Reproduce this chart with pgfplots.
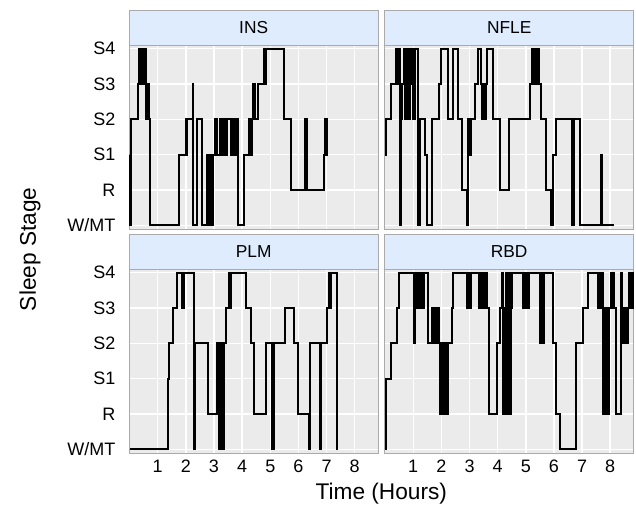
\documentclass[border=0pt]{standalone}
\usepackage{fontspec}
\setmainfont{Liberation Sans}
\usepackage{pgfplots}
\pgfplotsset{compat=1.18}
\usepackage{pgfplotstable}

\definecolor{panelbg}{RGB}{235,235,235}
\definecolor{stripbg}{RGB}{222,236,254}
\definecolor{framegray}{RGB}{170,170,170}

% stages: 0=W/MT 1=R 2=S1 3=S2 4=S3 5=S4, step holds until next row
\pgfplotstableread{
t s
0.00 2
0.02 0
0.04 3
0.29 4
0.33 5
0.36 4
0.38 5
0.40 4
0.42 5
0.45 4
0.47 5
0.50 4
0.52 5
0.55 4
0.57 5
0.60 3
0.62 4
0.65 3
0.67 4
0.70 3
0.74 0
1.76 2
2.00 3
2.03 2
2.05 3
2.24 4
2.27 0
2.40 3
2.56 0
2.74 2
2.77 0
2.80 2
2.84 0
2.88 2
2.92 0
2.98 2
3.02 3
3.04 2
3.06 3
3.08 2
3.10 3
3.12 2
3.21 3
3.23 2
3.25 3
3.27 2
3.29 3
3.31 2
3.33 3
3.35 2
3.37 3
3.39 2
3.41 3
3.43 2
3.45 3
3.61 2
3.63 3
3.65 2
3.67 3
3.69 2
3.71 3
3.73 2
3.75 3
3.77 2
3.79 3
3.85 0
4.06 2
4.24 3
4.27 2
4.29 3
4.32 2
4.34 3
4.39 4
4.41 3
4.43 4
4.45 3
4.56 4
4.76 5
4.78 4
4.80 5
4.82 4
4.84 5
5.49 3
5.73 1
6.25 3
6.29 1
6.92 2
6.94 3
6.96 2
6.98 3
7.00 2
7.02 3
7.05 3
}\insdata

\pgfplotstableread{
t s
0.00 2
0.02 3
0.22 4
0.37 5
0.40 4
0.42 5
0.45 4
0.47 5
0.53 0
0.58 3
0.61 4
0.66 5
0.69 3
0.72 5
0.76 4
0.79 3
0.81 5
0.86 3
0.88 5
0.91 4
0.97 5
1.00 3
1.02 5
1.06 3
1.08 5
1.16 0
1.24 3
1.41 2
1.48 0
1.66 3
1.92 4
2.00 5
2.22 3
2.40 5
2.58 3
2.72 1
2.91 0
2.95 3
2.97 2
2.99 3
3.01 2
3.03 3
3.05 2
3.07 3
3.20 4
3.31 5
3.41 4
3.43 3
3.45 4
3.47 3
3.49 4
3.51 3
3.53 4
3.55 3
3.57 4
3.62 5
3.83 3
4.07 1
4.42 3
5.14 4
5.22 5
5.25 4
5.28 5
5.31 4
5.34 5
5.38 4
5.40 5
5.46 4
5.53 3
5.70 1
5.88 0
5.97 2
6.06 3
6.65 0
6.72 3
6.93 0
7.68 2
7.70 0
8.12 0
}\nfledata

\pgfplotstableread{
t s
0.00 0
1.35 2
1.41 3
1.53 4
1.68 5
1.85 4
1.87 5
1.89 4
1.92 5
2.28 0
2.33 3
2.77 1
3.12 3
3.19 0
3.22 3
3.25 0
3.28 3
3.31 0
3.35 3
3.44 4
3.53 5
3.55 4
3.57 5
3.59 4
3.61 5
4.12 4
4.32 3
4.42 1
4.86 3
5.05 0
5.12 3
5.51 4
5.83 3
5.97 1
6.36 0
6.40 3
6.75 0
6.79 3
7.01 4
7.08 5
7.10 4
7.12 5
7.14 4
7.16 5
7.38 0
7.40 0
}\plmdata

\pgfplotstableread{
t s
0.00 0
0.04 2
0.22 3
0.41 4
0.49 5
1.02 3
1.05 4
1.08 5
1.10 4
1.13 5
1.16 4
1.19 5
1.22 4
1.25 5
1.28 4
1.31 5
1.34 4
1.37 5
1.51 3
1.65 4
1.68 3
1.71 4
1.74 3
1.77 4
1.80 3
1.83 4
1.92 3
1.96 1
1.99 3
2.02 1
2.05 3
2.08 1
2.11 3
2.14 1
2.17 3
2.20 1
2.23 3
2.37 4
2.43 5
2.91 4
2.94 5
2.97 4
3.00 5
3.03 4
3.06 5
3.33 4
3.36 5
3.39 4
3.42 5
3.45 4
3.48 5
3.51 4
3.54 5
3.57 4
3.60 5
3.63 4
3.70 1
3.96 3
4.10 4
4.17 5
4.20 1
4.23 4
4.26 1
4.29 5
4.32 4
4.38 1
4.42 5
4.45 1
4.48 4
4.52 5
4.90 4
4.93 5
4.96 4
4.99 5
5.02 4
5.06 5
5.09 4
5.12 5
5.50 3
5.53 5
5.56 3
5.59 5
5.62 3
5.65 5
5.97 3
6.09 1
6.21 0
6.80 3
7.02 4
7.20 5
7.56 4
7.59 5
7.62 4
7.65 5
7.68 4
7.71 5
7.74 1
7.77 4
7.80 1
7.83 4
7.86 1
7.89 4
7.92 1
7.95 4
8.04 5
8.08 4
8.11 5
8.15 4
8.21 1
8.38 5
8.43 3
8.46 4
8.49 3
8.52 4
8.55 3
8.58 4
8.61 3
8.64 4
8.67 5
8.72 4
8.76 5
8.80 4
8.82 4
}\rbddata

\pgfplotsset{
  hypno/.style={
    scale only axis, width=187pt, height=138pt,
    anchor=south west,
    xmin=-0.02, xmax=8.84, ymin=-0.1, ymax=5.1,
    xtick={1,...,8}, ytick={0,...,5},
    grid=major, major grid style={white, line width=1.1pt},
    axis background/.style={fill=panelbg},
    axis line style={framegray, line width=0.6pt},
    major tick length=0pt, tick style={draw=none},
    tick label style={font=\fontsize{13.5}{16}\selectfont, text=black},
    /pgf/number format/assume math mode=true,
    yticklabel style={anchor=east, inner sep=0pt, xshift=-10pt},
    xticklabel style={anchor=north, inner sep=0pt, yshift=-5pt},
  },
  ylab/.style={yticklabels={W/MT,R,S1,S2,S3,S4}},
  noylab/.style={yticklabels={,,,,,}},
  noxlab/.style={xticklabels={,,,,,,,}},
  stage/.style={const plot, black, line width=1.5pt},
}

\newcommand{\strip}[2]{%
  \draw[framegray, line width=0.6pt, fill=stripbg]
    (#1.north west) rectangle ([yshift=26pt]#1.north east);
  \node[font=\fontsize{13}{15}\selectfont] at ([yshift=13pt]#1.north) {#2};
}

\begin{document}
\begin{tikzpicture}
\useasboundingbox (0,0) rectangle (477pt,-381pt);

\begin{axis}[hypno, ylab, noxlab, name=ins, at={(96.75pt,-171.75pt)}]
  \addplot[stage] table {\insdata};
\end{axis}

\begin{axis}[hypno, noylab, noxlab, name=nfle, at={(288.4pt,-171.75pt)}]
  \addplot[stage] table {\nfledata};
\end{axis}

\begin{axis}[hypno, ylab, name=plm, at={(96.75pt,-339.75pt)}]
  \addplot[stage] table {\plmdata};
\end{axis}

\begin{axis}[hypno, noylab, name=rbd, at={(288.4pt,-339.75pt)}]
  \addplot[stage] table {\rbddata};
\end{axis}

\strip{ins}{INS}
\strip{nfle}{NFLE}
\strip{plm}{PLM}
\strip{rbd}{RBD}

\node[rotate=90, font=\fontsize{17}{20}\selectfont] at (22.5pt,-187pt) {Sleep Stage};
\node[font=\fontsize{17}{20}\selectfont] at (286pt,-370pt) {Time (Hours)};
\end{tikzpicture}
\end{document}
